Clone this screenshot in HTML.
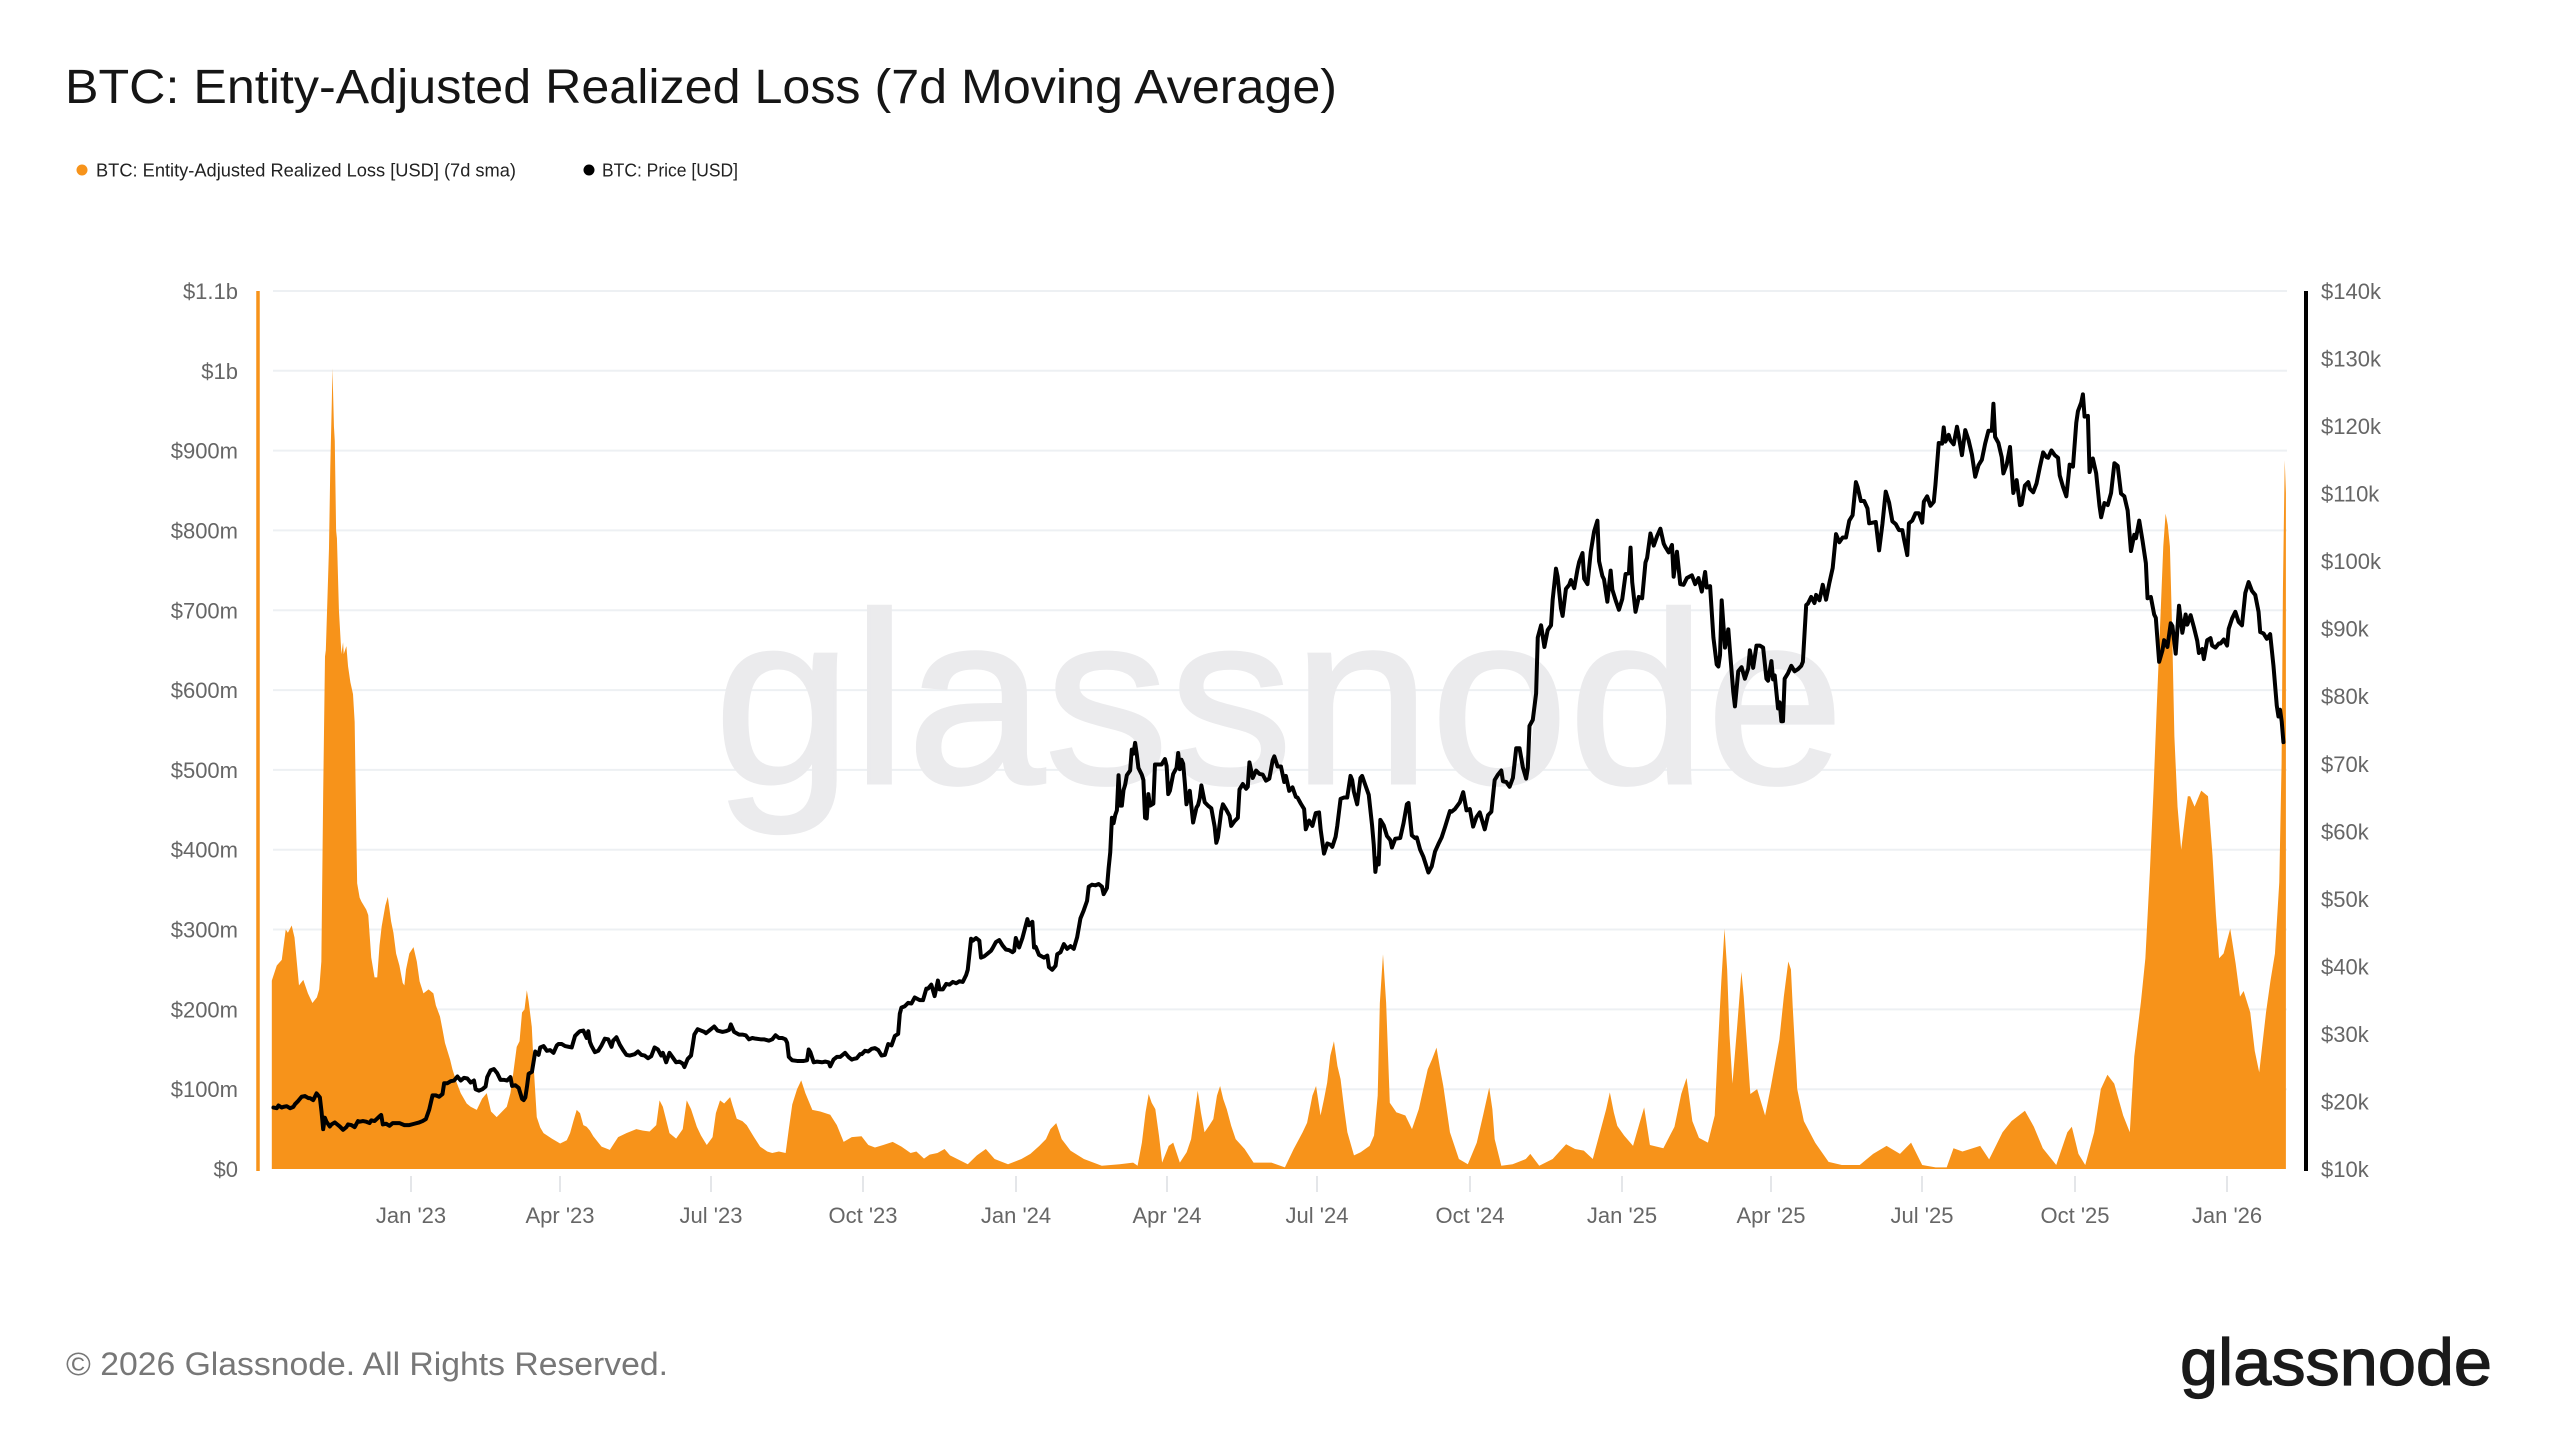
<!DOCTYPE html>
<html>
<head>
<meta charset="utf-8">
<style>
  html,body{margin:0;padding:0;background:#fff;}
  svg{display:block;}
  text{font-family:"Liberation Sans",Arial,sans-serif;}
</style>
</head>
<body>
<svg width="2560" height="1440" viewBox="0 0 2560 1440" xmlns="http://www.w3.org/2000/svg">
  <rect x="0" y="0" width="2560" height="1440" fill="#ffffff"/>

  <!-- Title -->
  <text x="65" y="103" font-size="48" fill="#151515" textLength="1272" lengthAdjust="spacingAndGlyphs">BTC: Entity-Adjusted Realized Loss (7d Moving Average)</text>

  <!-- Legend -->
  <circle cx="82" cy="170" r="5.5" fill="#f7931a"/>
  <text x="96" y="176.5" font-size="18" fill="#222" textLength="420" lengthAdjust="spacingAndGlyphs">BTC: Entity-Adjusted Realized Loss [USD] (7d sma)</text>
  <circle cx="589" cy="170" r="5.5" fill="#000"/>
  <text x="602" y="176.5" font-size="18" fill="#222" textLength="136" lengthAdjust="spacingAndGlyphs">BTC: Price [USD]</text>

  <!-- Gridlines -->
  <g stroke="#edf0f3" stroke-width="2">
    <line x1="273" y1="291" x2="2287" y2="291"/>
    <line x1="273" y1="370.8" x2="2287" y2="370.8"/>
    <line x1="273" y1="450.6" x2="2287" y2="450.6"/>
    <line x1="273" y1="530.4" x2="2287" y2="530.4"/>
    <line x1="273" y1="610.3" x2="2287" y2="610.3"/>
    <line x1="273" y1="690.1" x2="2287" y2="690.1"/>
    <line x1="273" y1="769.9" x2="2287" y2="769.9"/>
    <line x1="273" y1="849.7" x2="2287" y2="849.7"/>
    <line x1="273" y1="929.5" x2="2287" y2="929.5"/>
    <line x1="273" y1="1009.4" x2="2287" y2="1009.4"/>
    <line x1="273" y1="1089.2" x2="2287" y2="1089.2"/>
  </g>

  <!-- Watermark -->
  <text x="714" y="783" font-size="244" fill="#ebebed" stroke="#ebebed" stroke-width="3" textLength="1130" lengthAdjust="spacingAndGlyphs">glassnode</text>

  <!-- Loss area -->
  <polygon fill="#f7931a" transform="matrix(1.657 0 0 -0.7982 411 1169)" points="
-84,0 -84,236 -81,255 -78,262 -75.6,300 -74.3,296 -72,305 -70.3,290 -67.6,230 -65,237 -62.2,220 -59.5,208 -56.8,215 -55.4,225 -54.1,260 -53,470 -51.9,642 -51.4,650 -49.5,777 -48.7,880 -47.8,960 -47.4,1003 -46.5,930 -46,912 -45.2,800 -44.7,790 -43.5,700 -42,645 -41,660 -40.6,645 -39,655 -38,630 -36.6,610 -35,595 -34,560 -33,420 -32.5,358 -31,340 -29.9,335 -27,325 -25.8,318 -24,265 -22,240 -20.4,240 -19,280 -17.7,304 -15.5,330 -14,341 -12,310 -10.6,296 -9,270 -7,255 -5,233 -4,230 -3,250 -1,270 1.5,278 3.5,260 5.2,235 7.5,220 10.6,225 13.5,220 15,205 17.5,191 19,175 20.5,158 23.6,137 25,125 27.6,108 30,95 33.6,82 36,78 39.7,74 42.9,88 45.7,95 48.3,72 51.7,65 55,72 57.8,78 60,95 61.7,120 63.8,153 65.5,160 67,196 68.5,200 69.9,224 71,210 72.9,178 74,130 75.9,65 78,52 80,45 85,38 90,32 94,36 96,45 98,60 100,74 102,70 104,55 106,53 108,48 110,41 115,28 120,24 125,40 130,45 136,50 140,48 144,47 148,55 150,86 152,78 156,45 160,38 164,50 166.4,86 169,75 172.5,53 175,42 178.5,30 182,40 184,70 186.5,86 189,82 192.6,90 194,80 196.6,63 200,60 202.6,55 207,40 210.7,28 215,22 218,20 222,22 226.1,20 228,50 230.1,81 233,100 235.5,111 238,95 242.2,74 247,72 253,68 257,55 261.1,34 266,40 271.9,41 276,30 280,27 285,30 290.7,34 296,28 301.5,20 305,22 309.6,13 313,18 317.7,20 322,25 325.3,17
336,6 341.5,17 346.9,25 352.2,12.5 360.3,6 368.4,12.5 373.8,19 379.2,29 383.2,37.5 385.9,50 389.4,57.5 392.7,37.5 398,23 406.1,12.5 416.9,4 427.7,6 435.8,8 438.5,4 441.1,33 443.3,71 445.2,94 447,83 449.2,75 451.4,42 453.3,8 457.3,29 460,33 464,8 468.1,21 470.8,37.5 473,71 474.8,98 476.7,71 478.9,46 481.6,54 484.2,62.5 486.4,92 488.3,104 490.2,87.5 492.3,75 495,54 497.7,37.5 503.1,25 508.5,8 519.3,8 527.4,2 532.7,25 538.1,46 540.8,58 544,92 546.2,104 548.9,67 551,87.5 552.9,108 554.8,142 557,160 559.1,129 561,112.5 563.2,75 565.1,46 569.1,17 573.1,21 578.5,29 581.2,42 583.4,92 584.7,208 586.6,269 588.5,208 590.7,83 594.7,71 600.1,67 604.1,50 608.2,75 610.9,100 613.6,125 616.2,137.5 618.9,152 621.1,125 623,104 627,46 632.4,12.5 637.8,6 643.2,33 647.2,69 650.7,102 652.6,75 654,37.5 658,4 664.8,6 672.8,12.5 675.5,19 680.9,4 689,12.5 697.1,31 702.5,25 707.8,23 713.2,12.5 718.6,54 721.3,75 723.5,96 725.9,71 728,54 732.1,42 737.5,29 741.5,58 744.2,77 747.7,30
755.8,26 762.5,53 766.6,94 769.8,114 773.3,60 777.3,39 782.7,33 786.8,67 788.6,148 790.8,236 792.7,301 794.3,250 795.7,168 797.5,107 800.2,175 802.9,247 804.3,216 805.6,175 808.3,94 812.4,100 817.2,67 820.4,100 825.8,162 828.5,216 831.2,260 832.8,250 833.9,202 836.6,100 840.6,60 847.4,33 855.5,9 863.5,5 874.3,5 882.4,19 890.5,29 898.6,19 905.3,33 912,5 920.1,2 926.8,2 930.9,26 936.3,22 947,29 952.4,12 960.5,46 965.9,60 974,73 979.4,53 984.8,26 992.9,5 999.6,46 1002.3,53 1006.3,19 1010.4,5 1015.8,46 1019.8,100 1023.8,118 1027.9,107 1033.3,67 1037.3,46 1040,141 1044,209 1046.7,264 1049.4,372 1051.6,474 1053.5,576 1056.2,712 1057.5,780 1058.9,821 1060.2,807 1061.5,780 1062.9,671 1064.2,542 1066.1,454 1068.3,400 1071,447 1072.3,467 1073.7,467 1076.4,454 1080.4,474 1084.5,467 1087.2,393 1089.3,318 1091.2,264 1093.9,270 1097.9,301 1101.2,257 1103.8,216 1106,223 1110,196 1112.7,148 1115.4,121 1119.5,196 1122.2,236 1124.9,270 1127.5,359 1128.9,508 1129.7,725 1130.8,888 1131.5,847 1131.5,0"/>

  <!-- Price line -->
  <polyline fill="none" stroke="#000" stroke-width="4" stroke-linejoin="round" stroke-linecap="round" vector-effect="non-scaling-stroke" transform="matrix(1.657 0 0 -6.7538 411 1236.54)" points="
-83,19.1 -81,19.0 -80,19.4 -78,19.1 -77,19.2 -75,19.3 -73,19.0 -71,19.2 -70,19.6 -68,20.1 -66,20.7 -64,20.8 -62,20.5 -61,20.5 -59,20.2 -57,21.2 -56,20.9 -55,20.6 -54,18.5 -53,15.9 -52,17.6 -51,17.0 -49,16.3 -48,16.6 -46,16.9 -45,16.7 -43,16.3 -41,15.8 -39,16.2 -38,16.6 -36,16.5 -34,16.2 -32,17.1 -31,17.0 -29,17.1 -27,17.0 -25,16.8 -24,17.2 -22,17.1 -19,17.8 -18,18.0 -17,16.6 -15,16.7 -13,16.4 -11,16.8 -9,16.8 -7,16.8 -4,16.5 -1,16.5 2,16.7 5,16.9 7,17.1 9,17.4 11,18.8 13,20.9 15,20.9 17,20.7 19,21.1 20,22.7 22,22.7 24,23.0 26,23.1 28,23.7 30,23.1 32,23.5 34,23.4 36,22.8 38,23.1 39,21.8 41,21.6 43,21.8 45,22.2 46,23.6 48,24.6 50,24.8 52,24.2 54,23.2 56,23.2 58,23.1 60,23.6 61,22.3 63,22.4 65,22.0 67,20.4 68,20.2 69,20.6 70,22.2 71,24.1 73,24.4 75,27.4 77,26.9 78,28.0 80,28.2 82,27.5 84,27.6 86,27.2 88,28.3 89,28.5 91,28.5 93,28.2 95,28.1 97,28.0 99,29.7 101,30.2 102,30.4 104,30.5 106,29.4 107,30.4 108,28.8 109,28.2 111,27.3 113,27.5 115,28.3 117,29.3 119,29.2 121,28.1 122,29.0 124,29.5 126,28.4 128,27.6 130,26.9 132,26.8 135,27.0 137,27.4 139,26.9 141,26.8 143,26.4 145,26.7 147,28.0 149,27.7 151,26.8 152,27.2 154,25.8 156,27.2 158,26.5 160,25.8 162,25.9 164,25.6 165,25.1 167,26.3 169,26.8 170,28.3 171,29.9 173,30.7 175,30.5 177,30.3 178,30.1 180,30.5 183,31.1 185,30.5 188,30.3 190,30.4 192,30.6 193,31.4 195,30.3 198,29.9 200,29.9 202,29.8 204,29.2 206,29.4 208,29.3 211,29.2 213,29.2 216,29.0 218,29.2 220,29.8 222,29.4 224,29.4 226,29.2 227,28.7 228,26.6 230,26.1 233,26.0 235,26.0 237,26.0 239,26.1 240,27.7 241,27.3 243,25.8 245,25.9 248,25.8 250,25.9 252,25.8 253,25.2 255,26.2 257,26.6 259,26.6 262,27.2 264,26.6 266,26.2 267,26.3 269,26.4 271,27.0 272,27.0 274,27.5 276,27.4 278,27.8 280,27.9 282,27.6 284,26.8 286,26.9 288,28.5 290,28.3 292,29.7 294,30.0 295,33.0 296,33.9 298,34.1 300,34.6 302,34.5 304,35.4 307,35.0 309,35.0 311,36.7 312,36.7 314,37.3 316,35.6 318,37.9 319,36.6 321,36.6 323,37.4 325,37.3 327,37.7 329,37.5 331,37.8 333,37.7 335,38.7 336,39.5 338,44.1 339,43.8 341,44.2 343,43.8 344,41.3 346,41.5 348,41.9 350,42.3 351,42.7 353,43.6 355,43.9 357,43.1 359,42.5 361,42.4 363,42.1 364,42.3 365,44.2 367,42.8 369,44.2 372,47.0 373,46.1 375,46.6 376,42.8 377,42.9 379,41.7 382,41.3 384,41.6 385,39.9 387,39.5 389,40.1 390,41.8 392,42.1 394,43.3 396,42.6 398,43.0 400,42.6 402,44.3 404,47.1 406,48.3 408,49.7 409,51.8 411,52.1 413,52.0 415,52.2 417,51.8 418,50.7 420,51.6 421,54.5 422,56.9 423,62.0 424,61.2 425,62.4 426,63.1 427,68.3 428,63.8 429,63.8 430,66.1 431,66.9 432,68.3 434,69.0 435,72.1 436,71.5 437,73.1 438,71.4 439,69.4 441,68.4 442,67.6 443,62.0 444,61.9 445,65.5 446,63.8 448,64.1 449,69.9 451,69.9 453,69.9 455,70.7 456,69.7 457,65.5 458,66.0 460,68.5 462,69.4 463,71.6 464,69.2 465,70.6 466,70.0 467,67.2 468,64.0 470,66.0 472,61.3 474,63.5 475,63.9 476,64.9 477,66.8 479,64.3 481,63.8 483,63.4 485,60.7 486,58.3 487,59.1 489,63.0 490,64.0 492,63.2 494,62.3 495,60.8 497,61.5 499,62.0 500,66.2 502,67.0 504,66.3 505,66.6 506,70.2 508,67.9 510,69.0 512,68.5 514,68.4 516,67.5 518,67.8 520,70.5 521,71.1 523,69.6 525,69.6 527,67.3 528,68.2 530,66.0 532,66.5 534,65.1 535,65.0 537,64.1 539,63.3 540,60.3 542,61.6 544,60.8 546,62.7 548,62.8 549,60.2 551,56.7 553,58.2 555,58.0 556,57.7 558,59.2 559,60.8 561,64.8 563,65.0 565,65.0 567,68.2 568,67.6 569,65.9 571,64.0 573,67.9 574,68.2 576,66.8 578,65.4 580,60.9 581,58.1 582,54.0 583,56.0 584,55.1 585,61.7 587,60.9 589,59.3 591,58.7 592,57.6 594,58.9 597,59.0 599,61.2 601,64.0 602,64.2 604,59.4 606,59.0 607,59.1 609,57.3 611,56.2 614,53.9 616,54.8 618,57.0 620,58.1 622,59.1 624,60.6 627,63.0 628,62.9 630,63.3 633,64.3 635,65.8 637,63.1 639,63.3 641,60.7 643,62.1 645,62.8 648,60.3 650,62.4 652,62.9 654,67.6 656,68.4 658,69.0 659,67.4 661,67.3 663,66.6 665,67.9 667,72.3 669,72.3 671,69.5 673,67.8 674,69.4 675,75.6 677,76.5 679,80.4 680,88.7 682,90.5 684,87.3 686,89.8 688,90.5 689,94.3 691,98.9 692,97.7 694,93.0 695,91.9 697,95.9 699,96.5 700,97.2 702,96.0 704,98.8 705,99.9 707,101.2 708,97.4 710,96.6 712,101.4 714,104.4 716,106.0 717,100.0 719,97.8 720,97.3 722,94.0 724,98.6 725,95.8 727,94.2 729,92.8 731,94.4 733,98.1 735,98.2 736,102.0 737,96.9 739,92.5 741,94.7 743,94.5 745,99.8 746,100.5 748,104.1 750,102.3 752,103.7 754,104.8 756,102.6 757,102.1 759,101.3 761,102.4 762,97.7 764,101.4 766,96.6 768,96.5 770,97.5 773,97.9 775,96.6 777,97.5 779,95.5 781,98.4 782,96.1 784,96.3 786,88.7 788,84.7 789,84.4 790,86.1 791,94.2 793,87.2 795,89.9 796,86.7 798,80.6 799,78.5 801,83.7 803,84.3 805,82.6 807,84.1 808,86.8 810,84.2 812,87.5 814,87.5 816,87.2 818,82.6 819,82.3 821,85.2 822,82.5 823,83.1 825,78.2 826,79.1 827,76.3 828,76.3 829,82.6 831,83.4 833,84.5 835,83.7 837,84.0 839,84.5 840,85.1 842,93.5 843,93.7 845,94.7 847,93.8 848,95.0 850,94.2 852,96.5 854,94.3 856,96.8 858,99.0 860,104.0 862,102.8 864,103.5 866,103.5 868,106.0 870,106.8 872,111.7 873,111.0 875,108.9 877,108.9 879,107.8 880,105.6 882,105.7 884,105.8 886,101.6 888,105.5 890,110.3 892,108.7 894,105.9 896,105.5 898,104.6 900,104.6 901,103.3 903,100.9 904,105.6 906,106.0 908,107.1 910,107.1 912,105.7 913,108.8 915,109.6 917,108.2 919,108.8 920,111.3 922,117.5 924,117.4 925,119.8 926,117.7 928,118.7 929,117.9 931,117.3 933,119.9 934,118.6 936,115.7 938,119.4 940,117.9 942,115.8 944,112.5 946,114.2 948,115.0 950,117.4 952,119.3 954,119.3 955,123.3 956,118.4 958,117.5 960,115.4 961,113.0 963,114.3 965,116.9 966,113.5 967,110.1 969,112.0 971,108.3 972,108.4 974,111.2 976,111.7 977,110.7 979,110.2 981,111.5 983,113.9 985,116.1 987,115.4 988,115.3 990,116.4 992,115.7 994,115.3 995,112.7 997,111.0 999,109.6 1001,114.3 1003,114.0 1005,120.5 1006,122.2 1008,123.5 1009,124.7 1010,121.4 1012,121.5 1013,113.2 1015,115.2 1017,113.0 1019,108.2 1020,106.5 1022,108.6 1024,108.3 1026,110.1 1028,114.5 1030,114.1 1032,110.0 1034,109.6 1036,107.5 1038,101.5 1040,103.9 1041,103.4 1043,106.0 1045,103.0 1047,99.7 1048,94.5 1050,94.7 1052,92.1 1053,91.6 1055,85.1 1057,86.8 1058,88.3 1060,87.3 1062,90.8 1063,90.4 1065,86.3 1067,93.4 1069,89.4 1071,92.1 1072,90.6 1074,92.0 1076,90.2 1078,88.2 1079,86.4 1081,87.0 1082,85.5 1084,88.3 1086,88.6 1087,87.5 1089,87.2 1091,87.8 1092,87.8 1094,88.4 1096,87.5 1097,90.0 1099,91.5 1101,92.5 1103,91.0 1105,90.5 1107,95.3 1109,96.9 1111,95.6 1113,95.0 1115,92.5 1116,89.5 1118,89.3 1120,88.5 1122,89.2 1124,84.5 1126,78.6 1127,77.0 1128,78.0 1129,76.2 1130,73.2"/>

  <!-- Axis lines -->
  <line x1="258" y1="291" x2="258" y2="1171" stroke="#f7931a" stroke-width="3.5"/>
  <line x1="2306" y1="291" x2="2306" y2="1171" stroke="#000" stroke-width="4"/>

  <!-- Left axis labels -->
  <g font-size="22" fill="#666" text-anchor="end">
    <text x="238" y="299">$1.1b</text>
    <text x="238" y="378.8">$1b</text>
    <text x="238" y="458.6">$900m</text>
    <text x="238" y="538.4">$800m</text>
    <text x="238" y="618.3">$700m</text>
    <text x="238" y="698.1">$600m</text>
    <text x="238" y="777.9">$500m</text>
    <text x="238" y="857.7">$400m</text>
    <text x="238" y="937.5">$300m</text>
    <text x="238" y="1017.4">$200m</text>
    <text x="238" y="1097.2">$100m</text>
    <text x="238" y="1177">$0</text>
  </g>

  <!-- Right axis labels -->
  <g font-size="22" fill="#666" text-anchor="start">
    <text x="2321" y="299">$140k</text>
    <text x="2321" y="366.5">$130k</text>
    <text x="2321" y="434.1">$120k</text>
    <text x="2321" y="501.6">$110k</text>
    <text x="2321" y="569.2">$100k</text>
    <text x="2321" y="636.7">$90k</text>
    <text x="2321" y="704.2">$80k</text>
    <text x="2321" y="771.8">$70k</text>
    <text x="2321" y="839.3">$60k</text>
    <text x="2321" y="906.8">$50k</text>
    <text x="2321" y="974.4">$40k</text>
    <text x="2321" y="1041.9">$30k</text>
    <text x="2321" y="1109.5">$20k</text>
    <text x="2321" y="1177">$10k</text>
  </g>

  <!-- X ticks -->
  <g stroke="#e4e6e9" stroke-width="2">
    <line x1="411" y1="1176" x2="411" y2="1192"/>
    <line x1="560" y1="1176" x2="560" y2="1192"/>
    <line x1="711" y1="1176" x2="711" y2="1192"/>
    <line x1="863" y1="1176" x2="863" y2="1192"/>
    <line x1="1016" y1="1176" x2="1016" y2="1192"/>
    <line x1="1167" y1="1176" x2="1167" y2="1192"/>
    <line x1="1317" y1="1176" x2="1317" y2="1192"/>
    <line x1="1470" y1="1176" x2="1470" y2="1192"/>
    <line x1="1622" y1="1176" x2="1622" y2="1192"/>
    <line x1="1771" y1="1176" x2="1771" y2="1192"/>
    <line x1="1922" y1="1176" x2="1922" y2="1192"/>
    <line x1="2075" y1="1176" x2="2075" y2="1192"/>
    <line x1="2227" y1="1176" x2="2227" y2="1192"/>
  </g>

  <!-- X labels -->
  <g font-size="22" fill="#666" text-anchor="middle">
    <text x="411" y="1223">Jan '23</text>
    <text x="560" y="1223">Apr '23</text>
    <text x="711" y="1223">Jul '23</text>
    <text x="863" y="1223">Oct '23</text>
    <text x="1016" y="1223">Jan '24</text>
    <text x="1167" y="1223">Apr '24</text>
    <text x="1317" y="1223">Jul '24</text>
    <text x="1470" y="1223">Oct '24</text>
    <text x="1622" y="1223">Jan '25</text>
    <text x="1771" y="1223">Apr '25</text>
    <text x="1922" y="1223">Jul '25</text>
    <text x="2075" y="1223">Oct '25</text>
    <text x="2227" y="1223">Jan '26</text>
  </g>

  <!-- Footer -->
  <text x="66" y="1375" font-size="32" fill="#777" textLength="602" lengthAdjust="spacingAndGlyphs">© 2026 Glassnode. All Rights Reserved.</text>
  <text x="2180" y="1385" font-size="66" fill="#1a1a1a" stroke="#1a1a1a" stroke-width="1.2" textLength="312" lengthAdjust="spacingAndGlyphs">glassnode</text>
</svg>
</body>
</html>
